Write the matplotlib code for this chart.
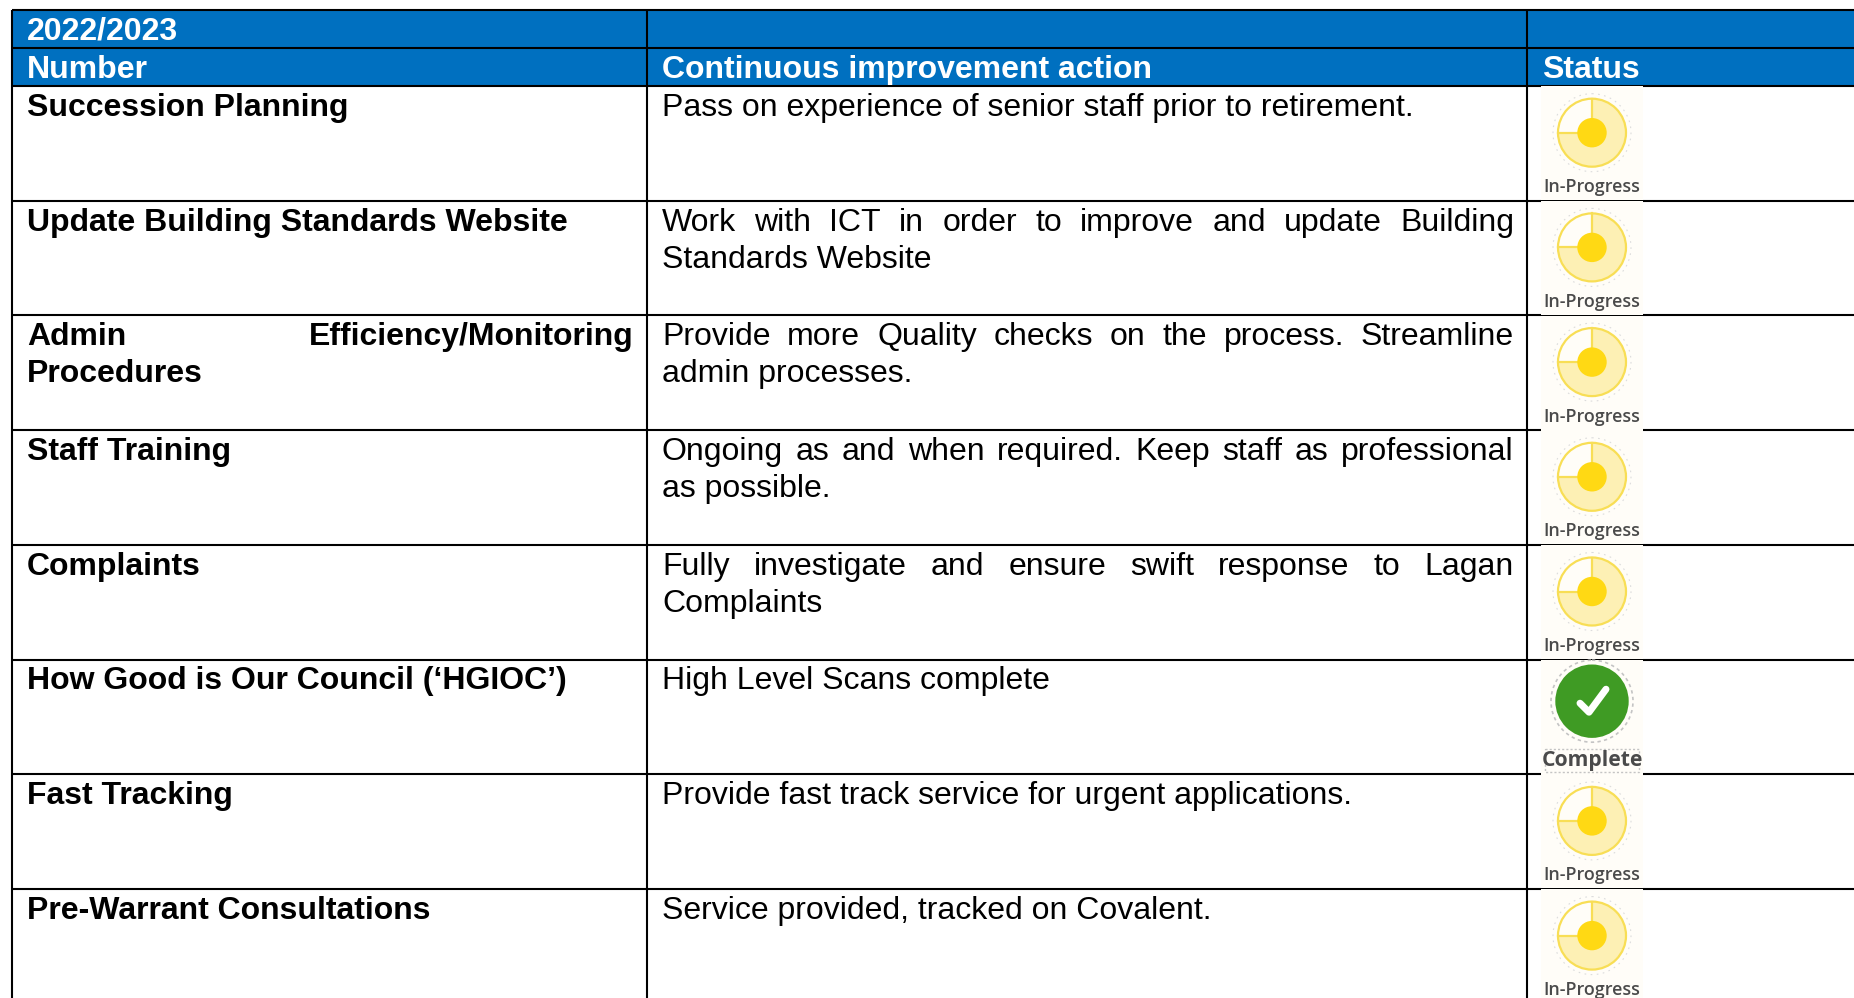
import matplotlib
matplotlib.use('Agg')
import matplotlib.pyplot as plt
from matplotlib.patches import Rectangle, Circle, Wedge

plt.rcParams['font.family'] = ['Liberation Sans', 'DejaVu Sans']

year = '2022/2023'
headers = ['Number', 'Continuous improvement action', 'Status']
# each cell: list of lines, line is (text, justified?)
numbers = [
    [('Succession Planning', False)],
    [('Update Building Standards Website', False)],
    [('Admin Efficiency/Monitoring', True), ('Procedures', False)],
    [('Staff Training', False)],
    [('Complaints', False)],
    [('How Good is Our Council (‘HGIOC’)', False)],
    [('Fast Tracking', False)],
    [('Pre-Warrant Consultations', False)],
]
actions = [
    [('Pass on experience of senior staff prior to retirement.', False)],
    [('Work with ICT in order to improve and update Building', True), ('Standards Website', False)],
    [('Provide more Quality checks on the process. Streamline', True), ('admin processes.', False)],
    [('Ongoing as and when required. Keep staff as professional', True), ('as possible.', False)],
    [('Fully investigate and ensure swift response to Lagan', True), ('Complaints', False)],
    [('High Level Scans complete', False)],
    [('Provide fast track service for urgent applications.', False)],
    [('Service provided, tracked on Covalent.', False)],
]
statuses = ['In-Progress', 'In-Progress', 'In-Progress', 'In-Progress',
            'In-Progress', 'Complete', 'In-Progress', 'In-Progress']

W, H = 1854, 998
BLUE = '#0070c0'
col_x = [12, 647, 1527, W + 5]
pad = 15
top, h1, h2 = 10, 48, 86
row_h = 114.7
fs = 23.0
lh = 37

fig = plt.figure(figsize=(W / 100, H / 100), dpi=100)
ax = fig.add_axes([0, 0, 1, 1])
ax.set_xlim(0, W)
ax.set_ylim(H, 0)
ax.axis('off')


def put_line(text, x, right, y, justify, **kw):
    if not justify:
        ax.text(x, y, text, va='baseline', ha='left', fontsize=fs, **kw)
        return
    r = fig.canvas.get_renderer()
    words = text.split(' ')
    arts = [ax.text(x, y, w, va='baseline', ha='left', fontsize=fs, **kw) for w in words]
    widths = [a.get_window_extent(r).width for a in arts]
    gap = (right - x - sum(widths)) / (len(words) - 1)
    cur = x
    for a, w in zip(arts, widths):
        a.set_x(cur)
        cur += w + gap


def draw_icon(cx, cy, status):
    ax.add_patch(Rectangle((1541, cy - 46.5), 102, 114, fc='#fffdf8', ec='none', zorder=3))
    if status == 'Complete':
        ax.add_patch(Circle((cx, cy - 5), 41, fc='none', ec='#c4c4c4', lw=1.2, ls=(0, (2, 2)), zorder=4))
        ax.add_patch(Circle((cx, cy - 5), 36.7, fc='#3f9b24', ec='none', zorder=5))
        ax.plot([cx - 12, cx - 3, cx + 14], [cy - 3, cy + 6, cy - 17], color='white', lw=5,
                solid_capstyle='round', solid_joinstyle='round', zorder=6)
        ax.add_patch(Rectangle((cx - 47, cy + 43), 94, 23, fc='none', ec='#c4c4c4', lw=1.0,
                               ls=(0, (1.5, 1.5)), zorder=4))
        ax.text(cx, cy + 54, status, ha='center', va='center', fontsize=15.2, family='Open Sans',
                fontweight='bold', color='#4a4a4a', zorder=6)
    else:
        ax.add_patch(Circle((cx, cy), 39, fc='none', ec='#dcdcdc', lw=0.8, ls=(0, (1.5, 4)), zorder=4))
        # y axis is inverted, so 180-270 is the upper left quarter
        ax.add_patch(Wedge((cx, cy), 34, 180, 270, fc='#fffdf8', ec='none', zorder=4))
        ax.add_patch(Wedge((cx, cy), 34, 270, 180, fc='#fdf0b4', ec='none', zorder=4))
        ax.add_patch(Circle((cx, cy), 34, fc='none', ec='#f8de55', lw=1.6, zorder=5))
        ax.plot([cx, cx, cx - 34], [cy - 34, cy, cy], color='#f8de55', lw=1.6, zorder=5)
        ax.add_patch(Circle((cx, cy), 14.7, fc='#ffd914', ec='none', zorder=6))
        ax.text(cx, cy + 54.5, status, ha='center', va='center', fontsize=12.9, family='Open Sans',
                fontweight='semibold', color='#4a4a4a', zorder=6)


# header bands
ax.add_patch(Rectangle((col_x[0], top), W, h2 - top, fc=BLUE, ec='none'))
ax.text(col_x[0] + pad, 39, year, color='white', fontweight='bold', fontsize=fs, va='baseline')
for i, name in enumerate(headers):
    ax.text(col_x[i] + pad, 78, name, color='white', fontweight='bold', fontsize=fs, va='baseline')

# rows
n = len(numbers)
bottom = H + 5
for i in range(n):
    y0 = h2 + i * row_h
    for cell, c, weight in ((numbers[i], 0, 'bold'), (actions[i], 1, 'normal')):
        for k, (line, just) in enumerate(cell):
            put_line(line, col_x[c] + pad, col_x[c + 1] - 13, y0 + 30 + k * lh, just,
                     fontweight=weight, color='black')
    draw_icon(1592, y0 + 46.7, statuses[i])

# grid lines
for y in [top, h1, h2] + [h2 + (i + 1) * row_h for i in range(n - 1)]:
    ax.plot([col_x[0], W], [y, y], color='black', lw=1.5, zorder=2, solid_capstyle='butt')
for x in col_x[:3]:
    ax.plot([x, x], [top, bottom], color='black', lw=1.5, zorder=2, solid_capstyle='butt')

fig.savefig('out.png', dpi=100)
